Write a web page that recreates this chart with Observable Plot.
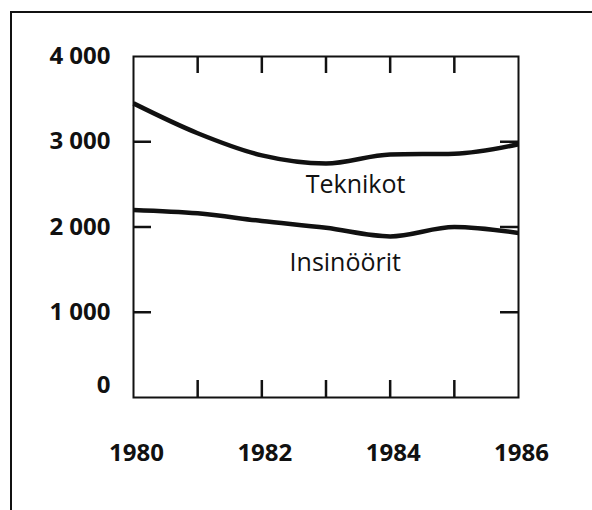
<!DOCTYPE html>
<html>
<head>
<meta charset="utf-8">
<script src="https://cdn.jsdelivr.net/npm/d3@7"></script>
<script src="https://cdn.jsdelivr.net/npm/@observablehq/plot@0.6"></script>
<style>
  html, body { margin: 0; padding: 0; background: #fff; }
  #wrap { position: relative; width: 592px; height: 510px; overflow: hidden; }
  #border { position: absolute; left: 10px; top: 11px; width: 600px; height: 520px;
            border-left: 2px solid #111; border-top: 2px solid #111; pointer-events: none; }
  #chart { position: absolute; left: 0; top: 0; }
  svg { font-family: "Open Sans", "Liberation Sans", sans-serif; }
</style>
</head>
<body>
<div id="wrap"><div id="chart"></div><div id="border"></div></div>
<script>
const years = [1980, 1981, 1982, 1983, 1984, 1985, 1986];
const teknikot = [3450, 3100, 2840, 2745, 2850, 2860, 2970];
const insinoorit = [2200, 2160, 2070, 1990, 1890, 2000, 1930];

const xTickYears = [1981, 1982, 1983, 1984, 1985];
const xLabelYears = [1980, 1982, 1984, 1986];
const yTickValues = [1000, 2000, 3000];
const yLabelValues = [1000, 2000, 3000, 4000];
const yLabelTexts = {0: "0", 1000: "1 000", 2000: "2 000", 3000: "3 000", 4000: "4 000"};

const seriesNames = ["Teknikot", "Insinöörit"];
const labelX = [1983.46, 1983.3];
const labelY = [2490, 1580];

const data = [
  ...years.map((y, i) => ({series: "Teknikot", year: y, value: teknikot[i]})),
  ...years.map((y, i) => ({series: "Insinöörit", year: y, value: insinoorit[i]}))
];
const labels = seriesNames.map((s, i) => ({text: s, x: labelX[i], y: labelY[i]}));

const W = 592, H = 510;
const mL = 133, mR = 74, mT = 56, mB = 113;
const plotH = H - mT - mB;
const plotW = W - mL - mR;
const tick = 17;

const chart = Plot.plot({
  width: W,
  height: H,
  marginLeft: mL,
  marginRight: mR,
  marginTop: mT,
  marginBottom: mB,
  x: {domain: [1980, 1986], axis: null},
  y: {domain: [0, 4000], axis: null},
  style: {fontFamily: "'Open Sans', 'Liberation Sans', sans-serif", color: "#111", background: "#fff"},
  marks: [
    Plot.frame({stroke: "#111", strokeWidth: 2}),
    // inward x ticks, bottom and top
    Plot.tickX(xTickYears, {x: d => d, insetTop: plotH - tick, stroke: "#111", strokeWidth: 2.5}),
    Plot.tickX(xTickYears, {x: d => d, insetBottom: plotH - tick, stroke: "#111", strokeWidth: 2.5}),
    // inward y ticks, left and right
    Plot.tickY(yTickValues, {y: d => d, insetRight: plotW - tick - 1, stroke: "#111", strokeWidth: 2.5}),
    Plot.tickY(yTickValues, {y: d => d, insetLeft: plotW - tick - 1, stroke: "#111", strokeWidth: 2.5}),
    Plot.line(data, {x: "year", y: "value", z: "series", curve: "monotone-x",
      stroke: "#111", strokeWidth: 4.5, strokeLinecap: "butt"}),
    Plot.text(labels, {x: "x", y: "y", text: "text", fontSize: 25, fontWeight: 500, fill: "#111"}),
    Plot.axisY(yLabelValues, {anchor: "left", tickSize: 0, tickPadding: 23,
      tickFormat: d => yLabelTexts[d], fontSize: 24, fontWeight: 700, fill: "#111"}),
    Plot.axisY([0], {anchor: "left", tickSize: 0, tickPadding: 23, dy: -12,
      tickFormat: d => yLabelTexts[d], fontSize: 24, fontWeight: 700, fill: "#111"}),
    Plot.axisX(xLabelYears, {anchor: "bottom", tickSize: 0, tickPadding: 46, dx: 3,
      tickFormat: d => String(d), fontSize: 24, fontWeight: 700, fill: "#111"})
  ]
});
document.getElementById("chart").appendChild(chart);
</script>
</body>
</html>
